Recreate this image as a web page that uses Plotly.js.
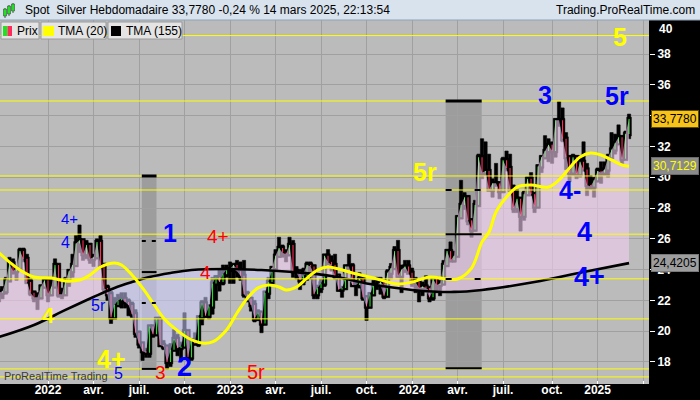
<!DOCTYPE html>
<html>
<head>
<meta charset="utf-8">
<script src="https://cdn.plot.ly/plotly-3.0.1.min.js"></script>
<style>
  html, body { margin: 0; padding: 0; background: #000; }
  #chart { width: 700px; height: 400px; }
</style>
</head>
<body>
<div id="chart"></div>
<script>
/* Spot Silver weekly (ProRealTime style) — candles, TMA(20), TMA(155), wave labels */

// ---------- Data (weekly bars, first bar = week of 2021-09-27) ----------
const FIRST_WEEK = "2021-09-27";

const OPEN = [
  22.4,22.5,22.6,23.3,24.4,23.9,24.1,25.2,24.7,23.2,22.5,22.2,22.2,22.9,
  23.3,22.4,22.9,24.3,22.4,22.4,23.3,23.9,24.3,25.7,25.9,25.0,25.6,24.7,24.8,25.8,24.3,22.8,22.4,20.9,21.7,22.0,22.1,21.9,21.7,21.1,19.9,19.2,18.7,18.6,20.3,19.8,20.8,19.1,19.0,18.0,18.8,19.5,18.9,19.0,20.0,18.3,19.4,19.2,20.9,21.8,21.0,21.6,23.1,23.5,23.2,23.7,
  24.0,24.0,24.3,23.9,23.6,22.4,22.1,21.7,20.8,21.2,20.5,22.5,23.2,24.1,24.9,25.4,25.1,25.0,25.6,23.9,23.9,23.3,23.6,24.3,24.2,22.4,22.8,23.1,24.9,24.5,24.3,23.6,22.7,22.8,24.2,24.2,23.0,23.0,23.4,22.2,21.6,22.4,23.0,23.0,23.2,22.3,23.8,24.1,25.2,23.6,24.0,24.2,
  23.8,23.2,23.2,22.8,22.9,22.8,22.2,23.4,23.0,23.1,24.3,25.2,24.6,24.9,27.4,28.2,28.7,27.2,26.6,28.2,31.3,30.3,30.4,29.2,29.6,29.6,29.1,31.1,30.6,29.2,28.0,28.6,27.5,28.9,29.9,28.9,28.1,30.7,31.3,31.7,32.1,31.7,33.7,33.7,32.5,31.3,30.3,31.3,30.2,31.0,30.5,29.5,29.4,
  29.8,30.4,30.3,30.5,31.3,31.8,32.2,32.6,31.2,32.8
];
const HIGH = [
  22.9,22.9,23.5,24.8,24.7,24.2,25.4,25.4,25.0,23.4,22.6,22.5,23.0,23.4,
  23.4,23.4,24.7,24.3,22.8,23.5,24.0,25.0,26.2,26.9,25.9,25.9,25.7,25.0,26.0,26.2,24.3,23.0,22.6,22.2,22.4,22.5,22.5,22.1,21.9,21.4,20.0,19.2,18.9,20.4,20.4,20.9,20.9,19.4,19.0,19.2,20.1,19.8,19.3,21.2,20.0,19.5,19.9,21.0,22.0,22.2,21.7,23.5,23.6,24.0,24.3,24.3,
  24.5,24.3,24.6,24.5,24.6,22.6,22.2,22.0,21.4,21.3,22.6,23.5,24.2,25.3,26.1,25.6,25.3,26.1,25.9,24.2,23.9,24.1,24.5,24.5,24.3,23.0,23.4,25.0,25.3,24.9,25.0,23.7,22.9,24.3,25.0,24.4,23.3,23.8,23.6,22.3,22.5,23.3,23.5,23.5,23.2,24.0,24.4,25.5,25.9,24.3,24.6,24.6,
  24.1,23.5,23.3,23.2,23.6,22.8,23.5,23.4,23.3,24.6,25.3,25.8,25.2,27.5,29.8,29.0,28.8,27.3,28.5,31.5,32.5,32.3,31.5,29.9,30.9,29.7,31.3,31.7,31.5,29.5,29.2,28.6,29.1,30.0,30.3,29.0,30.8,31.4,32.7,32.5,32.3,33.8,34.9,34.5,32.9,31.4,31.5,31.4,31.4,32.3,30.9,30.1,30.0,
  30.6,31.0,31.0,31.5,32.9,32.8,33.4,32.7,33.0,34.1
];
const LOW = [
  21.9,22.1,22.4,23.3,23.7,23.3,23.9,24.5,23.1,22.3,21.9,21.4,22.1,22.8,
  21.9,22.3,22.9,22.2,22.1,22.4,22.9,23.5,24.2,25.1,24.6,24.7,24.4,24.2,24.8,24.1,22.6,22.0,20.5,20.9,21.6,21.5,21.5,21.0,20.9,19.6,18.9,18.1,18.3,18.3,19.6,19.8,19.0,18.8,17.55,17.7,18.8,18.4,18.1,19.0,18.1,18.1,19.1,19.0,20.4,20.9,20.8,21.1,22.0,22.6,23.0,23.5,
  23.1,23.1,23.5,23.3,22.2,21.9,21.3,20.6,20.7,19.9,20.4,22.1,23.0,24.0,24.8,24.8,24.5,24.9,23.5,23.4,22.7,23.0,23.3,23.4,22.1,22.1,22.5,22.9,24.3,23.9,23.4,22.6,22.2,22.8,24.0,22.9,22.3,22.8,22.0,20.7,21.5,22.3,22.7,22.4,22.1,22.3,23.4,24.1,23.5,22.5,23.8,23.8,
  22.9,22.5,21.9,22.3,22.6,21.9,22.0,22.5,22.3,23.0,24.2,24.6,24.5,24.9,27.4,27.9,26.9,26.1,26.5,28.2,29.9,30.1,29.2,28.7,29.4,28.6,29.0,30.4,29.1,27.7,27.7,26.5,27.2,28.8,28.9,27.7,28.0,30.3,31.2,31.0,30.9,31.3,33.3,32.3,30.5,29.7,30.1,29.9,30.0,30.5,28.8,29.2,28.7,
  29.7,29.6,30.1,30.0,31.3,31.5,32.2,30.8,31.2,32.5
];
const CLOSE = [
  22.5,22.6,23.3,24.4,23.9,24.1,25.2,24.7,23.2,22.5,22.2,22.2,22.9,23.3,
  22.4,22.9,24.3,22.4,22.4,23.3,23.9,24.3,25.7,25.9,25.0,25.6,24.7,24.8,25.8,24.3,22.8,22.4,20.9,21.7,22.0,22.1,21.9,21.7,21.1,19.9,19.2,18.7,18.6,20.3,19.8,20.8,19.1,19.0,18.0,18.8,19.5,18.9,19.0,20.0,18.3,19.4,19.2,20.9,21.8,21.0,21.6,23.1,23.5,23.2,23.7,24.0,
  24.0,24.3,23.9,23.6,22.4,22.1,21.7,20.8,21.2,20.5,22.5,23.2,24.1,24.9,25.4,25.1,25.0,25.6,23.9,23.9,23.3,23.6,24.3,24.2,22.4,22.8,23.1,24.9,24.5,24.3,23.6,22.7,22.8,24.2,24.2,23.0,23.0,23.4,22.2,21.6,22.4,23.0,23.0,23.2,22.3,23.8,24.1,25.2,23.6,24.0,24.2,23.8,
  23.2,23.2,22.8,22.9,22.8,22.2,23.4,23.0,23.1,24.3,25.2,24.6,24.9,27.4,28.2,28.7,27.2,26.6,28.2,31.3,30.3,30.4,29.2,29.6,29.6,29.1,31.1,30.6,29.2,28.0,28.6,27.5,28.9,29.9,28.9,28.1,30.7,31.3,31.7,32.1,31.7,33.7,33.7,32.5,31.3,30.3,31.3,30.2,31.0,30.5,29.5,29.4,29.8,
  30.4,30.3,30.5,31.3,31.8,32.2,32.6,31.2,32.8,33.778
];

// TMA(20) at these bar numbers
const TMA20_BAR = [0,3,6,10,15,19,23,26,29,33,35,38,41,44,47,50,54,58,61,65,68,71,74,77,80,82,85,88,91,94,101,107,114,118,123,128,131,135,138,140,142,145,148,152,157,160,163,166,169,172,175,178,180];
const TMA20_VAL = [25.08,24.49,23.97,23.52,23.45,23.26,23.32,23.65,24.17,24.43,24.30,23.65,22.81,21.83,20.86,20.21,19.56,19.23,19.30,20.08,21.18,22.16,22.81,23.00,22.87,22.68,22.87,23.45,23.97,24.17,23.78,23.45,23.06,23.19,23.52,23.39,23.39,24.10,25.80,26.44,27.74,28.71,29.36,29.49,29.36,29.82,30.60,31.31,31.57,31.44,31.12,30.79,30.7129];

// TMA(155)
const TMA155_BAR = [0,10,19,27,33,38,43,49,55,65,75,84,95,106,118,130,138,153,167,180];
const TMA155_VAL = [19.62,20.40,21.38,22.22,22.81,23.19,23.52,23.78,23.97,24.04,23.97,23.84,23.58,23.06,22.68,22.55,22.68,23.19,23.84,24.4205];

// horizontal levels drawn on the chart
const LEVELS = [39.2, 34.95, 30.08, 29.17, 26.3, 23.4, 20.8, 17.55, 17.03];

// the two shaded boxes: bar span, top, bottom, inner levels
const BOXES = [
  { from: 40.8,  to: 45.0,  top: 30.08, bottom: 17.55, dashed: [25.86, 21.83], solid: [23.84], dash: "4px,6px" },
  { from: 127.6, to: 137.9, top: 34.95, bottom: 17.6,  dashed: [29.17, 23.39], solid: [26.3],  dash: "6px,23px" }
];

const TICK_DATES = ["2022-01-03","2022-04-04","2022-07-04","2022-10-03","2023-01-02","2023-04-03","2023-07-03","2023-10-02",
                    "2024-01-01","2024-04-01","2024-07-01","2024-10-07","2025-01-06","2025-04-07"];
const TICK_TEXT  = ["2022","avr.","juil.","oct.","2023","avr.","juil.","oct.","2024","avr.","juil.","oct.","2025",""];
const Y_TICKS = [18,20,22,24,26,28,30,32,34,36,38];

// wave labels: text, bar, price, colour, size, bold
const WAVES = [
  ["5", 177.4, 39.1, "yellow", 25, true],
  ["5r",176.6, 35.27,"blue",   25, true],
  ["3", 156.0, 35.34,"blue",   25, true],
  ["5r",121.7, 30.34,"yellow", 25, true],
  ["4-",163.1, 29.17,"blue",   25, true],
  ["4", 167.4, 26.44,"blue",   27, true],
  ["4+",168.6, 23.52,"blue",   27, true],
  ["1",  48.9, 26.38,"blue",   25, true],
  ["4+", 62.6, 26.18,"red",    19, false],
  ["4",  58.9, 23.78,"red",    19, false],
  ["4+", 20.0, 27.29,"blue",   15, false],
  ["4",  19.1, 25.79,"blue",   16, false],
  ["5r", 28.3, 21.64,"blue",   16, false],
  ["4",  14.0, 20.99,"yellow", 22, true],
  ["4+", 32.0, 18.19,"yellow", 25, true],
  ["5",  34.0, 17.22,"blue",   16, false],
  ["3",  46.0, 17.29,"red",    19, false],
  ["2",  52.9, 17.68,"blue",   27, true],
  ["5r", 73.4, 17.35,"red",    20, false]
];

// ---------- Style ----------
const C = {
  bg: "#bbbbbb",
  grid: "#a0a0a0",
  up: "#22e022",
  down: "#ff2a5a",
  yellow: "#ffff00",
  blue: "#0000ff",
  red: "#ff0000",
  fillUp: "rgba(240,205,240,0.6)",
  fillDn: "rgba(205,205,255,0.55)",
  boxShade: "rgba(40,40,40,0.2)"
};
const FONT = "Liberation Sans, Arial, sans-serif";
const DAY = 864e5;
const T0 = Date.parse(FIRST_WEEK + "T00:00:00Z");

function barDate(i) {
  return new Date(T0 + i * 7 * DAY).toISOString().slice(0, 19).replace("T", " ");
}
function interp(xs, ys, x) {
  for (let k = 1; k < xs.length; k++) {
    if (x <= xs[k]) {
      const t = (x - xs[k - 1]) / (xs[k] - xs[k - 1]);
      return ys[k - 1] + t * (ys[k] - ys[k - 1]);
    }
  }
  return ys[ys.length - 1];
}
// pixel helpers for the frame (plot area is 649 x 364, top at 20px)
const px = x => x / 649;
const py = y => (384 - y) / 364;
const fmt = v => v.toFixed(4).replace(".", ",");

// ---------- Traces ----------
const dates = CLOSE.map((_, i) => barDate(i));
const tmaFill = CLOSE.map((_, i) => interp(TMA155_BAR, TMA155_VAL, i));
const noLine = { width: 0 };

const traces = [
  { x: dates, y: tmaFill, mode: "lines", line: noLine, hoverinfo: "skip" },
  { x: dates, y: CLOSE.map((c, i) => Math.max(c, tmaFill[i])), mode: "lines", line: noLine,
    fill: "tonexty", fillcolor: C.fillUp, hoverinfo: "skip" },
  { x: dates, y: tmaFill, mode: "lines", line: noLine, hoverinfo: "skip" },
  { x: dates, y: CLOSE.map((c, i) => Math.min(c, tmaFill[i])), mode: "lines", line: noLine,
    fill: "tonexty", fillcolor: C.fillDn, hoverinfo: "skip" },
  // wicks (black, slightly outlined so they read as solid columns)
  { type: "bar", x: dates, base: LOW, y: HIGH.map((h, i) => h - LOW[i]),
    width: 6.5 * DAY, marker: { color: "#000", line: { color: "#000", width: 0.6 } } },
  // bodies (black frame)
  { type: "bar", x: dates,
    base: OPEN.map((o, i) => Math.min(o, CLOSE[i]) - 0.12),
    y: OPEN.map((o, i) => Math.abs(CLOSE[i] - o) + 0.24),
    width: 9 * DAY, marker: { color: "#000", line: { color: "#000", width: 0.6 } } },
  // coloured core of the body
  { type: "bar", x: dates,
    base: OPEN.map((o, i) => Math.min(o, CLOSE[i])),
    y: OPEN.map((o, i) => Math.abs(CLOSE[i] - o)),
    width: 2.2 * DAY,
    marker: { color: OPEN.map((o, i) => (CLOSE[i] >= o ? C.up : C.down)), line: { width: 0 } } },
  { x: TMA155_BAR.map(barDate), y: TMA155_VAL, mode: "lines",
    line: { color: "#000", width: 2.6, shape: "spline" } },
  { x: TMA20_BAR.map(barDate), y: TMA20_VAL, mode: "lines",
    line: { color: C.yellow, width: 3, shape: "spline" } }
];

// ---------- Shapes ----------
const shapes = [];
BOXES.forEach(b => {
  shapes.push({ type: "rect", layer: "below", xref: "x", yref: "y",
    x0: barDate(b.from), x1: barDate(b.to), y0: b.bottom, y1: b.top,
    fillcolor: C.boxShade, line: { width: 0 } });
});
LEVELS.forEach(v => {
  shapes.push({ type: "line", layer: "above", xref: "paper", yref: "y",
    x0: 0, x1: 1, y0: v, y1: v, line: { color: C.yellow, width: 1 } });
});
BOXES.forEach(b => {
  const x0 = barDate(b.from), x1 = barDate(b.to);
  [[b.top, 3, "solid"], [b.bottom, 2, "solid"]]
    .concat(b.solid.map(v => [v, 2, "solid"]))
    .concat(b.dashed.map(v => [v, 2, b.dash]))
    .forEach(([v, w, d]) => {
      shapes.push({ type: "line", layer: "above", xref: "x", yref: "y",
        x0: x0, x1: x1, y0: v, y1: v, line: { color: "#000", width: w, dash: d } });
    });
});
// header band
shapes.push({ type: "rect", layer: "above", xref: "paper", yref: "paper",
  x0: px(0), x1: px(700), y0: py(20), y1: py(0), fillcolor: "#d8e3ee", line: { width: 0 } });
shapes.push({ type: "line", layer: "above", xref: "paper", yref: "paper",
  x0: px(0), x1: px(700), y0: py(20), y1: py(20), line: { color: "#8fa3b8", width: 1 } });
// header icon
[[5, 9, 16, C.up], [9, 6, 14, C.up], [13, 4, 11, C.up]].forEach(([x, a, b, col]) => {
  shapes.push({ type: "line", layer: "above", xref: "paper", yref: "paper",
    x0: px(x), x1: px(x), y0: py(b + 2), y1: py(a - 1), line: { color: "#555", width: 1 } });
  shapes.push({ type: "rect", layer: "above", xref: "paper", yref: "paper",
    x0: px(x - 1.5), x1: px(x + 1.5), y0: py(b), y1: py(a), fillcolor: col, line: { color: "#333", width: 0.5 } });
});
// legend boxes
[[1, 39], [41, 106], [108, 182]].forEach(([a, b]) => {
  shapes.push({ type: "rect", layer: "above", xref: "paper", yref: "paper",
    x0: px(a), x1: px(b), y0: py(39), y1: py(22), fillcolor: "#e4e4e4", line: { color: "#9a9a9a", width: 1 } });
});
[[3, 7.5, C.up], [7.5, 12, C.down], [43, 54, C.yellow], [111, 121, "#000"]].forEach(([a, b, col]) => {
  shapes.push({ type: "rect", layer: "above", xref: "paper", yref: "paper",
    x0: px(a), x1: px(b), y0: py(36), y1: py(26), fillcolor: col, line: { width: 0 } });
});

// ---------- Annotations ----------
const waveColor = { yellow: C.yellow, blue: C.blue, red: C.red };
const annotations = WAVES.map(([t, bar, price, col, size, bold]) => ({
  text: t, xref: "x", yref: "y", x: barDate(bar), y: price, showarrow: false,
  xanchor: "center", yanchor: "middle",
  font: { family: FONT, size: size, color: waveColor[col], weight: bold ? "bold" : "normal" }
}));

function paperText(text, x, y, opts) {
  return Object.assign({ text: text, xref: "paper", yref: "paper", x: px(x), y: py(y),
    showarrow: false, xanchor: "left", yanchor: "middle",
    font: { family: FONT, size: 12, color: "#000" } }, opts || {});
}
annotations.push(paperText("Spot&nbsp;&nbsp;Silver Hebdomadaire 33,7780 -0,24 % 14 mars 2025, 22:13:54", 23, 10));
annotations.push(paperText("Trading.ProRealTime.com", 697, 10, { xanchor: "right" }));
annotations.push(paperText("Prix", 15, 30.5));
annotations.push(paperText("TMA (20)", 56, 30.5));
annotations.push(paperText("TMA (155)", 124, 30.5));
annotations.push(paperText("ProRealTime Trading", 2, 376, { font: { family: FONT, size: 11, color: "#3a3a3a" } }));
annotations.push(paperText("40", 657, 29, { font: { family: FONT, size: 12, color: "#fff", weight: "bold" } }));

// last-value boxes on the price scale
const last = CLOSE.length - 1;
[[CLOSE[last], "#f7c21a", "#000", "#5a4a00"],
 [TMA20_VAL[TMA20_VAL.length - 1], "#8a8a8a", C.yellow, "#6a6a6a"],
 [TMA155_VAL[TMA155_VAL.length - 1], "#9e9e9e", "#000", "#7a7a7a"]].forEach(([v, bg, fg, bd]) => {
  annotations.push({ text: fmt(v), xref: "paper", yref: "y", x: px(651), y: v,
    xanchor: "left", yanchor: "middle", showarrow: false,
    bgcolor: bg, bordercolor: bd, borderwidth: 1, borderpad: 1,
    font: { family: FONT, size: 12, color: fg } });
});

// ---------- Layout ----------
const layout = {
  width: 700, height: 400,
  margin: { l: 0, r: 51, t: 20, b: 16, pad: 0 },
  paper_bgcolor: "#000", plot_bgcolor: C.bg,
  showlegend: false, barmode: "overlay", hovermode: false,
  font: { family: FONT, size: 12, color: "#fff" },
  xaxis: {
    type: "date", range: [barDate(0.286), barDate(185.7)],
    tickvals: TICK_DATES, ticktext: TICK_TEXT,
    tickfont: { family: FONT, size: 12, color: "#fff", weight: "bold" },
    ticks: "inside", ticklen: 3, tickcolor: "#fff", ticklabelstandoff: -3,
    showgrid: true, gridcolor: C.grid, gridwidth: 1,
    zeroline: false, showline: false, fixedrange: true
  },
  yaxis: {
    side: "right", range: [16.57, 40.21],
    tickvals: Y_TICKS,
    tickfont: { family: FONT, size: 12, color: "#fff", weight: "bold" },
    ticks: "outside", ticklen: 5, tickcolor: "#fff",
    showgrid: true, gridcolor: C.grid, gridwidth: 1,
    zeroline: false, showline: false, fixedrange: true
  },
  shapes: shapes,
  annotations: annotations
};

Plotly.newPlot("chart", traces, layout, { displayModeBar: false, staticPlot: true });
</script>
</body>
</html>
